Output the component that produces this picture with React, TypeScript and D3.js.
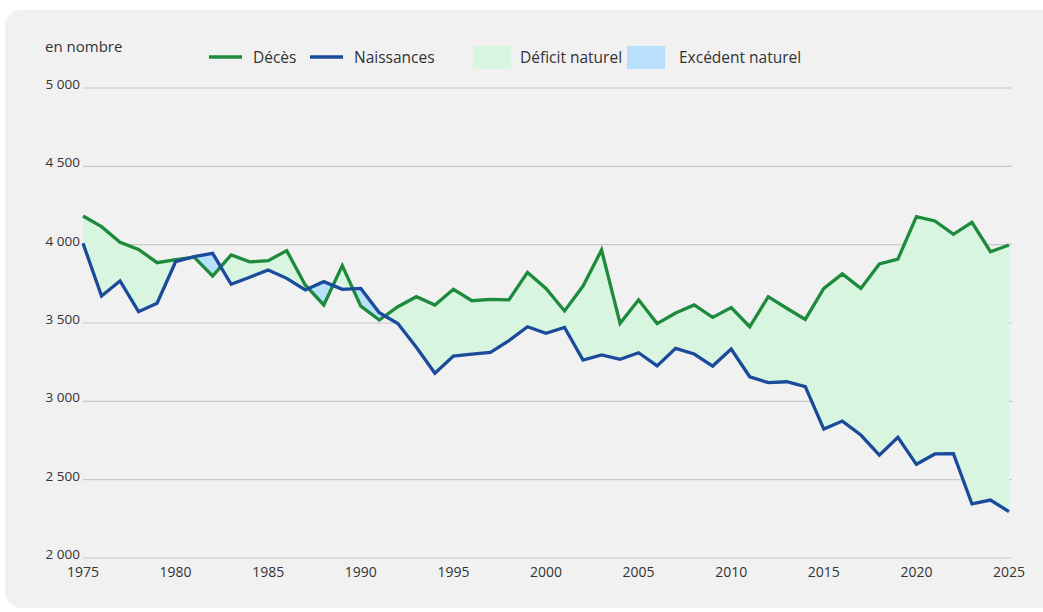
import React from 'react'
import * as d3 from 'd3'

const years = d3.range(1975, 2026)

const deces = [
  4183, 4115, 4015, 3970, 3885, 3905, 3920, 3800, 3935, 3890,
  3898, 3962, 3743, 3615, 3866, 3608, 3519, 3604, 3668, 3615,
  3715, 3642, 3651, 3648, 3823, 3721, 3577, 3736, 3966, 3498,
  3648, 3496, 3564, 3615, 3536, 3598, 3476, 3668, 3594, 3523,
  3721, 3813, 3721, 3877, 3908, 4179, 4151, 4066, 4143, 3955,
  3998,
]

const naissances = [
  4009, 3672, 3768, 3572, 3626, 3891, 3923, 3945, 3747, 3792,
  3838, 3785, 3711, 3764, 3715, 3721, 3566, 3497, 3345, 3179,
  3289, 3302, 3313, 3387, 3476, 3434, 3472, 3264, 3296, 3268,
  3310, 3226, 3338, 3302, 3225, 3334, 3157, 3119, 3125, 3094,
  2823, 2874, 2785, 2657, 2770, 2598, 2664, 2666, 2345, 2370,
  2296,
]

const yTicks = [2000, 2500, 3000, 3500, 4000, 4500, 5000]
const xTicks = [1975, 1980, 1985, 1990, 1995, 2000, 2005, 2010, 2015, 2020, 2025]

const fmt = (v: number) => d3.format(',')(v).replace(',', ' ')

const GREEN = '#1e8a3b'
const BLUE = '#1a4b9b'
const GREEN_FILL = '#d8f5e0'
const BLUE_FILL = '#b8e0fa'
const FONT = "'Open Sans', sans-serif"

export default function App() {
  const width = 1043
  const height = 612
  const left = 83, right = 1009, top = 88, bottom = 558

  const x = d3.scaleLinear().domain([1975, 2025]).range([left, right])
  const y = d3.scaleLinear().domain([2000, 5000]).range([bottom, top])

  const rows = years.map((yr, i) => ({ yr, d: deces[i], n: naissances[i] }))

  const lineD = d3.line<any>().x(r => x(r.yr)).y(r => y(r.d))
  const lineN = d3.line<any>().x(r => x(r.yr)).y(r => y(r.n))
  const between = d3.area<any>().x(r => x(r.yr)).y0(r => y(r.n)).y1(r => y(r.d))
  const aboveN = d3.area<any>().x(r => x(r.yr)).y0(0).y1(r => y(r.n))
  const belowN = d3.area<any>().x(r => x(r.yr)).y0(height).y1(r => y(r.n))

  return (
    <svg width={width} height={height} style={{ position: 'absolute', left: 0, top: 0 }}
      fontFamily={FONT}>
      <rect x={0} y={0} width={width} height={height} fill="#fff" />
      <rect x={5} y={10} width={width + 30} height={598} rx={16} fill="#f1f1f1" />

      <defs>
        <clipPath id="clip-above"><path d={aboveN(rows) || ''} /></clipPath>
        <clipPath id="clip-below"><path d={belowN(rows) || ''} /></clipPath>
      </defs>

      {/* grille */}
      {yTicks.map(t => (
        <g key={t}>
          <line x1={left} x2={right + 3} y1={y(t)} y2={y(t)} stroke="#c9c9c9" strokeWidth={1.2} />
          <text x={80} y={y(t) + 1} textAnchor="end" fontSize={13.5} fill="#333">{fmt(t)}</text>
        </g>
      ))}
      {xTicks.map(t => (
        <text key={t} x={x(t)} y={577} textAnchor="middle" fontSize={14} fill="#333">{t}</text>
      ))}

      {/* zones */}
      <path d={between(rows) || ''} fill={GREEN_FILL} clipPath="url(#clip-above)" />
      <path d={between(rows) || ''} fill={BLUE_FILL} clipPath="url(#clip-below)" />

      <path d={lineD(rows) || ''} fill="none" stroke={GREEN} strokeWidth={3.3} />
      <path d={lineN(rows) || ''} fill="none" stroke={BLUE} strokeWidth={3.3} />

      {/* légende */}
      <text x={45} y={52} fontSize={15} fill="#333">en nombre</text>
      <line x1={209} x2={242} y1={57} y2={57} stroke={GREEN} strokeWidth={3.3} />
      <text x={253} y={63} fontSize={15.5} fill="#333">Décès</text>
      <line x1={310} x2={343} y1={57} y2={57} stroke={BLUE} strokeWidth={3.3} />
      <text x={354} y={63} fontSize={15.5} fill="#333">Naissances</text>
      <rect x={473} y={46} width={38} height={23} fill={GREEN_FILL} />
      <text x={520} y={63} fontSize={15.5} fill="#333">Déficit naturel</text>
      <rect x={627} y={46} width={38} height={23} fill={BLUE_FILL} />
      <text x={679} y={63} fontSize={15.5} fill="#333">Excédent naturel</text>
    </svg>
  )
}
